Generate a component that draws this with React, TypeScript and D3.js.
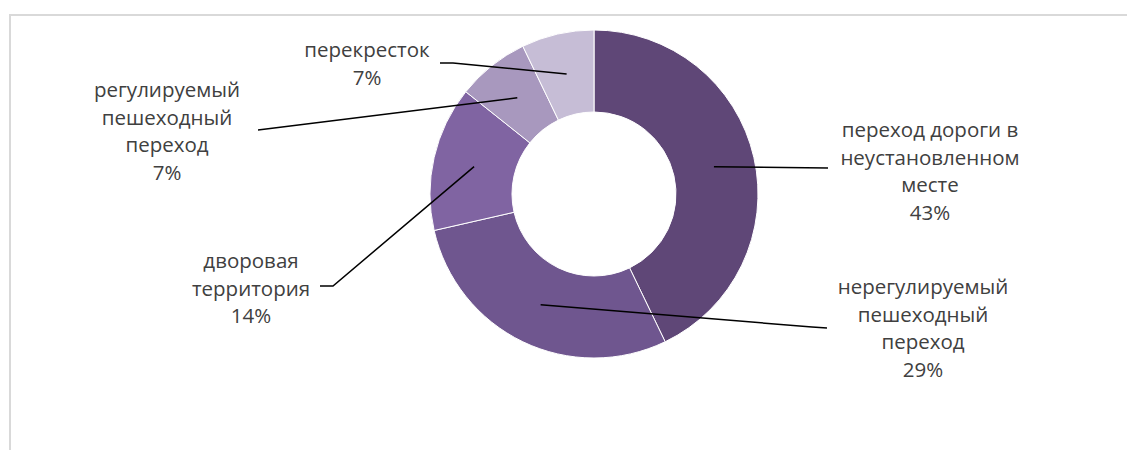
import React from "react";
import * as d3 from "d3";

// data (shares of 28 cases)
const categories = [
  "переход дороги в неустановленном месте",
  "нерегулируемый пешеходный переход",
  "дворовая территория",
  "регулируемый пешеходный переход",
  "перекресток",
];
const values = [12, 8, 4, 2, 2];
const percentLabels = ["43%", "29%", "14%", "7%", "7%"];
const labelLines = [
  ["переход дороги в", "неустановленном", "месте"],
  ["нерегулируемый", "пешеходный", "переход"],
  ["дворовая", "территория"],
  ["регулируемый", "пешеходный", "переход"],
  ["перекресток"],
];
const colors = ["#5F4777", "#6F568F", "#8064A2", "#A898BE", "#C6BDD6"];

// label placement (page coords): text centre x, first line y, leader end point
const labelLayout = [
  { x: 930, y: 129, end: [828, 168], elbow: null },
  { x: 923, y: 286, end: [827, 328], elbow: [812, 327] },
  { x: 251, y: 260, end: [320, 286], elbow: [333, 286] },
  { x: 167, y: 89, end: [258, 130], elbow: null },
  { x: 367, y: 49, end: [440, 63], elbow: [453, 63] },
];

const App = () => {
  const ref = React.useRef<SVGSVGElement>(null);

  React.useEffect(() => {
    const svg = d3.select(ref.current);
    svg.selectAll("*").remove();

    const cx = 594,
      cy = 194,
      outer = 164,
      inner = 82;

    // chart frame
    svg.append("rect")
      .attr("x", 10)
      .attr("y", 15)
      .attr("width", 1200)
      .attr("height", 500)
      .attr("fill", "none")
      .attr("stroke", "#D9D9D9")
      .attr("stroke-width", 2);

    const pie = d3.pie<number>().sort(null).value((d) => d);
    const arcs = pie(values);
    const arc = d3.arc<d3.PieArcDatum<number>>().innerRadius(inner).outerRadius(outer);

    const g = svg.append("g").attr("transform", `translate(${cx},${cy})`);
    g.selectAll("path")
      .data(arcs)
      .join("path")
      .attr("d", arc)
      .attr("fill", (_, i) => colors[i])
      .attr("stroke", "#fff")
      .attr("stroke-width", 1);

    // leader lines from slice centroid to label
    arcs.forEach((a, i) => {
      const [px, py] = arc.centroid(a);
      const lay = labelLayout[i];
      const pts: [number, number][] = [[cx + px, cy + py]];
      if (lay.elbow) pts.push(lay.elbow as [number, number]);
      pts.push(lay.end as [number, number]);
      svg.append("path")
        .attr("d", d3.line()(pts))
        .attr("fill", "none")
        .attr("stroke", "#000")
        .attr("stroke-width", 1.5);
    });

    // labels
    labelLines.forEach((lines, i) => {
      const lay = labelLayout[i];
      const t = svg.append("text")
        .attr("text-anchor", "middle")
        .attr("font-family", "'Open Sans', sans-serif")
        .attr("font-size", 20.5)
        .attr("fill", "#404040")
        .attr("aria-label", categories[i]);
      [...lines, percentLabels[i]].forEach((ln, j) => {
        t.append("tspan")
          .attr("x", lay.x)
          .attr("y", lay.y + j * 27.5)
          .attr("dominant-baseline", "central")
          .text(ln);
      });
    });
  }, []);

  return (
    <svg
      ref={ref}
      width={1127}
      height={450}
      style={{ position: "absolute", left: 0, top: 0, background: "#fff" }}
    ></svg>
  );
};

export default App;
